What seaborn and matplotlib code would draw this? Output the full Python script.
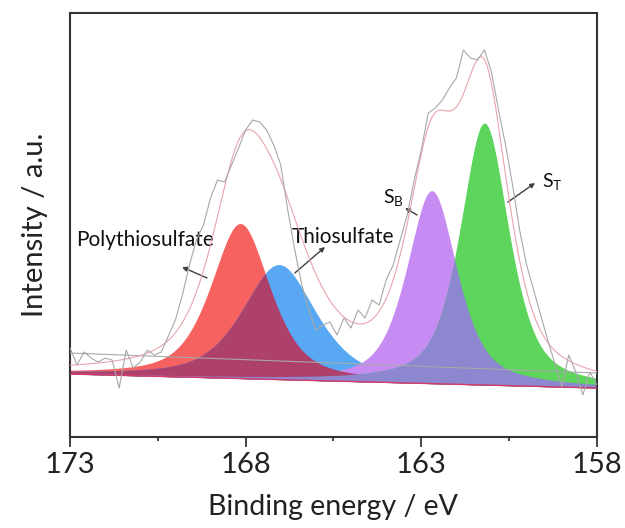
import numpy as np
import pandas as pd
import seaborn as sns
import matplotlib.pyplot as plt
from matplotlib.ticker import FixedLocator

# raw spectrum, S 2p region (binding energy in eV, 0.2 eV step, 173 -> 158)
energy = np.round(np.arange(173.0, 157.99, -0.2), 1)
raw = [89, 72, 85, 79, 75, 79, 77, 49, 87, 69,
       75, 87, 82, 85, 101, 117, 142, 172, 197, 212,
       239, 257, 255, 272, 289, 307, 317, 315, 307, 292,
       272, 227, 187, 152, 127, 107, 112, 115, 102, 119,
       109, 127, 119, 137, 132, 157, 172, 197, 222, 257,
       287, 324, 329, 337, 349, 359, 387, 379, 377, 387,
       365, 327, 292, 252, 207, 172, 147, 122, 97, 74,
       50, 82, 65, 42, 65, 52]

# backgrounds (end points at 173 and 158 eV)
bg_ends = [173, 158]
bg_raw = [84, 64]      # straight line under the raw data
bg_fit = [63, 49]      # baseline of the fitted components

# fitted components: centre (eV), height, FWHM (eV)
names = ["Polythiosulfate", "Thiosulfate", "S_B", "S_T"]
centres = [168.15, 167.05, 162.7, 161.2]
heights = [155, 115, 193, 262]
fwhms = [2.0, 2.5, 1.7, 1.65]
colors = ["#F6625F", "#58A8F4", "#C78CF4", "#5DD55D"]
overlap_cols = ["#AE416B", "#8C87CE"]

major_ticks = [173, 168, 163, 158]
minor_ticks = [170.5, 165.5, 160.5]


def pv(x, c, h, w, eta=0.6):
    # pseudo-Voigt line shape
    g = np.exp(-4 * np.log(2) * ((x - c) / w) ** 2)
    l = 1 / (1 + 4 * ((x - c) / w) ** 2)
    return h * (eta * l + (1 - eta) * g)


sns.set_style("white")
plt.rcParams['font.family'] = ['Lato', 'DejaVu Sans']
plt.rcParams['mathtext.default'] = 'regular'

fig = plt.figure(figsize=(6.25, 5.28), dpi=100)
ax = fig.add_axes([0.112, 0.1723, 0.843, 0.8031])

x = np.linspace(158, 173, 800)
base = np.interp(x, bg_ends[::-1], bg_fit[::-1])
comps = [pv(x, c, h, w) for c, h, w in zip(centres, heights, fwhms)]

for p, col in zip(comps, colors):
    ax.fill_between(x, base, base + p, color=col, lw=0, zorder=1)
# overlapping parts of the two doublet pairs
ax.fill_between(x, base, base + np.minimum(comps[0], comps[1]), color=overlap_cols[0], lw=0, zorder=2)
ax.fill_between(x, base, base + np.minimum(comps[2], comps[3]), color=overlap_cols[1], lw=0, zorder=2)

# cumulative fit envelope
envelope = base + 1.07 * np.sum(comps, axis=0)
sns.lineplot(x=x, y=envelope, color="#E9A3AB", lw=0.8, ax=ax, zorder=4)
sns.lineplot(x=energy, y=raw, color="#A8A8A8", lw=0.8, ax=ax, zorder=4)
sns.lineplot(x=bg_ends, y=bg_raw, color="#A8A8A8", lw=0.8, ax=ax, zorder=3)
sns.lineplot(x=bg_ends, y=bg_fit, color="#D23A6A", lw=1.0, ax=ax, zorder=3)

ax.set_xlim(173, 158)
ax.set_ylim(0, 424)
ax.xaxis.set_major_locator(FixedLocator(major_ticks))
ax.xaxis.set_minor_locator(FixedLocator(minor_ticks))
ax.set_yticks([])
ax.tick_params(axis="x", which="major", length=7, width=1.2, labelsize=21, colors="#222222", direction="out", bottom=True)
ax.tick_params(axis="x", which="minor", length=3, width=1.2, direction="out", bottom=True)
for s in ax.spines.values():
    s.set_linewidth(1.5)
    s.set_color("#333333")

ax.set_xlabel("Binding energy / eV", fontsize=20.5, labelpad=12, color="#222222")
ax.set_ylabel("Intensity / a.u.", fontsize=21, labelpad=16, color="#222222")

arrow = dict(arrowstyle="-|>", lw=1.0, color="#404040", mutation_scale=7, shrinkA=0, shrinkB=0)
ax.text(170.87, 197, "Polythiosulfate", fontsize=15, ha="center", va="center", color="#111111")
ax.annotate("", xy=(169.81, 170), xytext=(169.10, 159), arrowprops=arrow)
ax.text(165.23, 200, "Thiosulfate", fontsize=15, ha="center", va="center", color="#111111")
ax.annotate("", xy=(165.74, 190), xytext=(166.60, 164), arrowprops=arrow)
ax.text(164.10, 240, "S$_B$", fontsize=14, ha="left", va="center", color="#111111")
ax.annotate("", xy=(163.46, 229), xytext=(163.12, 222), arrowprops=arrow)
ax.text(159.55, 256, "S$_T$", fontsize=14, ha="left", va="center", color="#111111")
ax.annotate("", xy=(159.76, 254), xytext=(160.53, 235), arrowprops=arrow)

fig.savefig("out.png", dpi=100)
